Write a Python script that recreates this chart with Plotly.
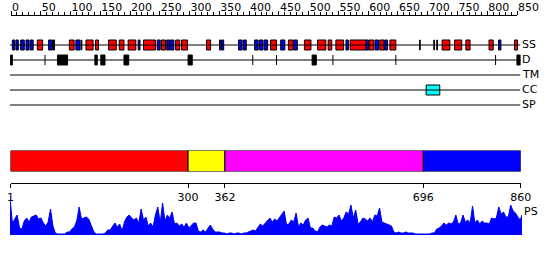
import plotly.graph_objects as go

W, H = 550, 260
LENGTH = 860

# ---------------- data ----------------
track_names = ["SS", "D", "TM", "CC", "SP"]

ss_helix_start = [46, 100, 128, 144, 166, 184, 199, 225, 255, 279, 289, 331, 439, 469, 496, 518,
                  536, 549, 573, 605, 623, 640, 728, 749, 768, 807, 850]
ss_helix_end = [55, 108, 140, 149, 179, 192, 212, 245, 262, 286, 299, 338, 449, 477, 507, 532,
                542, 562, 600, 613, 630, 650, 741, 761, 775, 814, 855]
ss_strand_start = [4, 10, 18, 27, 34, 65, 111, 216, 248, 264, 270, 353, 357, 385, 393, 412, 420,
                   428, 456, 478, 566, 600, 615, 631, 823]
ss_strand_end = [8, 14, 24, 32, 39, 71, 118, 219, 253, 269, 276, 356, 360, 391, 398, 418, 426,
                 434, 463, 484, 570, 604, 621, 636, 827]
ss_short_start = [72, 120, 690, 714, 719]
ss_short_end = [75, 121, 691, 715, 720]

d_start = [1, 80, 143, 153, 192, 300, 509, 854]
d_end = [4, 97, 147, 160, 200, 307, 516, 860]
d_marks = [59, 409, 449, 544, 650, 818]

cc_start = [701]
cc_end = [724]

dom_start = [1, 300, 362, 696]
dom_end = [300, 362, 696, 860]
dom_colors = ["#ff0000", "#ffff00", "#ff00ff", "#0000ff"]
dom_ticks = [1, 300, 362, 696, 860]

ruler_ticks = list(range(0, 851, 50))

ps_values = [37, 12, 16, 20, 7, 6, 14, 17, 13, 18, 19, 20, 16, 17, 12, 9, 13, 26, 9, 2,
             1, 1, 1, 1, 3, 3, 6, 8, 14, 28, 16, 17, 18, 16, 9, 4, 1, 1, 1, 1,
             2, 5, 5, 9, 12, 8, 11, 4, 13, 18, 20, 17, 15, 17, 12, 26, 15, 18, 9, 12,
             8, 20, 28, 12, 32, 14, 20, 17, 23, 11, 12, 9, 11, 8, 12, 7, 10, 12, 12, 4,
             3, 5, 3, 7, 10, 6, 3, 3, 3, 2, 2, 1, 2, 2, 1, 2, 2, 1, 2, 2,
             3, 4, 5, 4, 8, 11, 9, 12, 14, 17, 13, 16, 14, 17, 21, 24, 10, 11, 15, 13,
             22, 8, 12, 10, 15, 17, 7, 7, 4, 3, 8, 10, 9, 8, 10, 9, 18, 17, 20, 14,
             17, 23, 21, 30, 17, 25, 11, 13, 17, 16, 14, 17, 13, 20, 19, 27, 13, 12, 11, 10,
             9, 3, 2, 3, 2, 2, 3, 2, 2, 2, 1, 1, 1, 1, 1, 1, 1, 2, 2, 6,
             7, 9, 12, 10, 12, 11, 13, 20, 11, 12, 20, 13, 15, 12, 29, 12, 15, 11, 14, 12,
             12, 11, 17, 16, 17, 28, 21, 23, 18, 18, 30, 24, 22, 18, 15, 20]
ps_residues = list(range(1, LENGTH, 4)) + [LENGTH]

FONT = dict(family="DejaVu Sans", size=11, color="black")


def py(p):
    """paper fraction for a pixel row"""
    return 1 - p / H


fig = go.Figure()

# track base lines
for i, name in enumerate(track_names):
    fig.add_trace(go.Scatter(x=[0, LENGTH], y=[i, i], mode="lines",
                             line=dict(color="black", width=1), hoverinfo="skip",
                             showlegend=False, xaxis="x", yaxis="y"))


def boxes(starts, ends, row, color, width=0.667):
    fig.add_trace(go.Bar(orientation="h", base=starts,
                         x=[e - s for s, e in zip(starts, ends)],
                         y=[row] * len(starts), width=width,
                         marker=dict(color=color, line=dict(color="black", width=1)),
                         hoverinfo="skip", showlegend=False, xaxis="x", yaxis="y"))


boxes(ss_helix_start, ss_helix_end, 0, "#ff0000")
boxes(ss_strand_start, ss_strand_end, 0, "#0000ff")
boxes(ss_short_start, ss_short_end, 0, "#000000")
boxes(d_start, d_end, 1, "#000000")
boxes(cc_start, cc_end, 3, "#00ffff")

# D boundary marks
mx, my = [], []
for m in d_marks:
    mx += [m, m, None]
    my += [1 - 0.333, 1 + 0.333, None]
fig.add_trace(go.Scatter(x=mx, y=my, mode="lines", line=dict(color="black", width=1),
                         hoverinfo="skip", showlegend=False, xaxis="x", yaxis="y"))

# ruler (axis only)
fig.add_trace(go.Scatter(x=[0, 850], y=[0, 0], mode="markers", marker=dict(opacity=0),
                         hoverinfo="skip", showlegend=False, xaxis="x2", yaxis="y4"))

# domain bar
fig.add_trace(go.Bar(orientation="h", base=dom_start,
                     x=[e - s for s, e in zip(dom_start, dom_end)],
                     y=[0.5] * len(dom_start), width=1,
                     marker=dict(color=dom_colors, line=dict(color="black", width=1)),
                     hoverinfo="skip", showlegend=False, xaxis="x3", yaxis="y2"))

# PS profile
fig.add_trace(go.Scatter(x=ps_residues, y=ps_values, mode="lines", fill="tozeroy",
                         fillcolor="#0000ff", line=dict(color="#0000ff", width=1),
                         hoverinfo="skip", showlegend=False, xaxis="x4", yaxis="y3"))

annotations = []
for i, name in enumerate(track_names):
    annotations.append(dict(x=LENGTH, y=i, xref="x", yref="y", text=name, showarrow=False,
                            xanchor="left", yanchor="middle", font=FONT, xshift=-1))
annotations.append(dict(x=LENGTH, y=py(211), xref="x4", yref="paper", text="PS",
                        showarrow=False, xanchor="left", yanchor="middle", font=FONT))

hidden = dict(visible=False, showgrid=False, zeroline=False, automargin=False)

fig.update_layout(
    width=W, height=H, margin=dict(l=0, r=0, t=0, b=0, autoexpand=False),
    paper_bgcolor="white", plot_bgcolor="white", barmode="overlay",
    showlegend=False, font=FONT, annotations=annotations,
    xaxis=dict(domain=[10 / W, 520.5 / W], range=[0, LENGTH], anchor="y", **hidden),
    yaxis=dict(domain=[py(112.5), py(37.5)], range=[4.5, -0.5], anchor="x", **hidden),
    xaxis2=dict(domain=[11 / W, 517 / W], range=[0, 850], anchor="y4", side="top",
                showline=True, linecolor="black", linewidth=1, showgrid=False, zeroline=False,
                automargin=False, tickangle=0,
                ticks="outside", ticklen=4, tickcolor="black", tickwidth=1,
                tickvals=ruler_ticks, ticktext=[str(t) for t in ruler_ticks],
                ticklabelposition="outside right", tickfont=FONT,
                minor=dict(dtick=10, tick0=0, ticks="outside", ticklen=3, tickcolor="black",
                           showgrid=False)),
    yaxis4=dict(domain=[py(22), py(16)], range=[0, 1], anchor="x2", **hidden),
    xaxis3=dict(domain=[10.5 / W, 520.7 / W], range=[1, LENGTH], anchor="free",
                position=py(183), side="bottom", showline=True, linecolor="black",
                linewidth=1, showgrid=False, zeroline=False, ticks="outside", ticklen=4,
                automargin=False, tickangle=0,
                tickcolor="black", tickvals=dom_ticks, ticktext=[str(t) for t in dom_ticks],
                tickfont=FONT, layer="below traces"),
    yaxis2=dict(domain=[py(171.5), py(150.5)], range=[0, 1], anchor="x3", **hidden),
    xaxis4=dict(domain=[10 / W, 522 / W], range=[1, LENGTH], anchor="y3", **hidden),
    yaxis3=dict(domain=[py(235), py(198)], range=[0, 37], anchor="x4", **hidden),
)

fig.write_html("out.html")
